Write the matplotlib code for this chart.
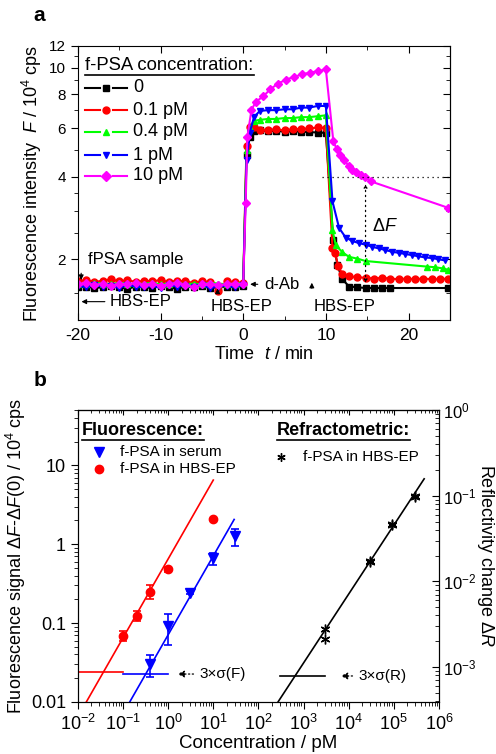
import numpy as np
import matplotlib
matplotlib.use('Agg')
import matplotlib.pyplot as plt
from matplotlib.ticker import FixedLocator, FuncFormatter, LogLocator, NullFormatter

plt.rcParams['font.family'] = ['Liberation Sans', 'DejaVu Sans']
plt.rcParams['mathtext.fontset'] = 'custom'
plt.rcParams['mathtext.rm'] = 'Liberation Sans'
plt.rcParams['mathtext.it'] = 'Liberation Sans:italic'
plt.rcParams['mathtext.bf'] = 'Liberation Sans:bold'
plt.rcParams['axes.unicode_minus'] = False

# ---------------- panel a data (time in min, F in 10^4 cps) ----------------
t_base = [-20, -19, -18, -17, -16, -15, -14, -13, -12, -11, -10,
          -9, -8, -7, -6, -5, -4, -3, -2, -1, 0]

black_base = [1.58, 1.59, 1.57, 1.58, 1.60, 1.58, 1.56, 1.59, 1.58, 1.57, 1.60,
              1.58, 1.56, 1.59, 1.58, 1.60, 1.57, 1.58, 1.59, 1.58, 1.60]
red_base = [1.66, 1.68, 1.65, 1.67, 1.69, 1.66, 1.68, 1.65, 1.67, 1.66, 1.68,
            1.65, 1.67, 1.66, 1.64, 1.66, 1.65, 1.53, 1.66, 1.65, 1.64]
green_base = [1.63, 1.62, 1.64, 1.63, 1.62, 1.64, 1.63, 1.62, 1.63, 1.64, 1.62,
              1.63, 1.64, 1.62, 1.63, 1.62, 1.64, 1.63, 1.62, 1.63, 1.64]
blue_base = [1.60, 1.58, 1.61, 1.59, 1.60, 1.57, 1.61, 1.59, 1.58, 1.60, 1.57,
             1.61, 1.59, 1.60, 1.58, 1.61, 1.57, 1.59, 1.60, 1.58, 1.61]
mag_base = [1.62, 1.64, 1.61, 1.63, 1.60, 1.63, 1.62, 1.64, 1.61, 1.63, 1.60,
            1.62, 1.64, 1.61, 1.58, 1.62, 1.63, 1.61, 1.62, 1.63, 1.62]

black_t = [0.4, 0.8, 1.3, 2, 3, 4, 5, 6, 7, 8, 9, 10,
           10.9, 11.4, 12, 12.8, 13.8, 14.8, 15.8, 16.8, 17.8, 24.8]
black_F = [4.8, 5.6, 5.85, 5.9, 5.86, 5.88, 5.84, 5.86, 5.84, 5.82, 5.8, 5.78,
           2.35, 1.9, 1.69, 1.59, 1.58, 1.57, 1.57, 1.57, 1.57, 1.57]

red_t = [0.4, 0.8, 1.3, 2, 3, 4, 5, 6, 7, 8, 9, 10,
         10.8, 11.1, 11.5, 12, 12.8, 13.8, 14.8, 15.8, 16.8, 17.8, 18.8, 19.8,
         20.8, 21.8, 22.8, 23.8, 24.8]
red_F = [5.2, 6.05, 6.1, 5.9, 5.92, 5.95, 5.9, 5.95, 5.98, 6.0, 6.05, 6.02,
         2.2, 2.1, 1.89, 1.76, 1.73, 1.72, 1.71, 1.70, 1.71, 1.70, 1.69, 1.70,
         1.69, 1.70, 1.69, 1.69, 1.70]

green_t = [0.4, 0.8, 1.3, 2, 3, 4, 5, 6, 7, 8, 9, 10,
           10.8, 11.2, 12, 12.8, 13.8, 14.8, 22.2, 23.2, 24.2, 24.8]
green_F = [5.0, 6.0, 6.4, 6.45, 6.5, 6.5, 6.55, 6.55, 6.6, 6.6, 6.65, 6.7,
           2.55, 2.25, 2.12, 2.04, 2.01, 1.97, 1.88, 1.87, 1.85, 1.83]

blue_t = [0.4, 0.8, 1.3, 2, 3, 4, 5, 6, 7, 8, 9, 10,
          10.8, 11.6, 12.4, 13.2, 14.0, 14.8, 15.6, 16.4, 17.2, 18.0, 18.8,
          19.6, 20.4, 21.2, 22.0, 22.8, 23.6, 24.4]
blue_F = [4.6, 5.8, 6.6, 6.95, 7.0, 7.0, 7.05, 7.05, 7.15, 7.15, 7.25, 7.25,
          3.25, 2.6, 2.4, 2.33, 2.29, 2.26, 2.22, 2.19, 2.16, 2.13, 2.11,
          2.09, 2.07, 2.05, 2.03, 2.02, 2.0, 1.98]

mag_t = [0.3, 0.5, 1.0, 1.5, 2.4, 3.3, 4.2, 5.2, 6.1, 7.1, 8.1, 9.1, 10.0,
         10.9, 11.3, 11.7, 12.2, 12.8, 13.2, 13.7, 14.2, 14.7, 15.4, 24.8]
mag_F = [3.2, 5.6, 7.0, 7.5, 7.85, 8.35, 8.75, 9.05, 9.25, 9.45, 9.6, 9.72, 9.85,
         5.4, 5.05, 4.8, 4.6, 4.37, 4.25, 4.15, 4.07, 4.0, 3.85, 3.08]

labels_a = ['0', '0.1 pM', '0.4 pM', '1 pM', '10 pM']

# ---------------- panel b data ----------------
conc_hbs = [0.1, 0.2, 0.4, 1.0, 10]
sig_hbs = [0.069, 0.124, 0.25, 0.48, 2.1]
err_hbs = [0.010, 0.018, 0.05, 0.04, 0.0]

conc_serum = [0.4, 1.0, 3.0, 10, 30]
sig_serum = [0.030, 0.092, 0.242, 0.66, 1.26]
err_serum = [0.009, 0.04, 0.01, 0.12, 0.3]

conc_refr = [3000, 3000, 30000, 30000, 90000, 90000, 300000, 300000]
dR_refr = [0.00275, 0.00214, 0.0174, 0.0168, 0.0467, 0.0455, 0.099, 0.097]

# calibration fits: y = a * x**b over [x0, x1]
fit_hbs = (0.65, 1.0, 0.0153, 10)
fit_serum = (0.071, 1.0, 0.141, 29)
fit_refr = (3.94e-4 / 275 ** 0.805, 0.805, 275, 4.7e5)

# 3 sigma noise levels
noise_hbs = (0.0243, 0.01, 0.1)
noise_serum = (0.0226, 0.1, 1.0)
noise_refr = (7.85e-4, 300, 3000)

fig = plt.figure(figsize=(4.96, 7.54), dpi=100)

# ============================ panel a ============================
ax = fig.add_axes([0.157, 0.5756, 0.75, 0.3634])
series = [
    (black_base, black_t, black_F, 'black', 's'),
    (red_base, red_t, red_F, 'red', 'o'),
    (green_base, green_t, green_F, '#00ff00', '^'),
    (blue_base, blue_t, blue_F, 'blue', 'v'),
    (mag_base, mag_t, mag_F, 'magenta', 'D'),
]
for base, tr, Fr, c, m in series:
    ax.plot(t_base + tr, base + Fr, color=c, marker=m, ms=5 if m != 'D' else 4.5,
            lw=1.5, mec=c)

ax.set_yscale('log')
ax.set_xlim(-20, 25)
ax.set_ylim(1.2, 12)
ax.yaxis.set_major_locator(FixedLocator([2, 4, 6, 8, 10, 12]))
ax.yaxis.set_minor_locator(FixedLocator([1.5, 2.5, 3, 3.5, 5, 7, 9, 11]))
ax.yaxis.set_major_formatter(FuncFormatter(lambda v, p: '%g' % v))
ax.yaxis.set_minor_formatter(NullFormatter())
ax.xaxis.set_major_locator(FixedLocator([-20, -10, 0, 10, 20]))
ax.xaxis.set_minor_locator(FixedLocator([-15, -5, 5, 15, 25]))
ax.tick_params(axis='x', which='both', direction='in', top=True, labelsize=12.5, pad=6)
ax.tick_params(axis='y', which='both', direction='out', right=False, labelsize=11)
ax.tick_params(which='major', length=5)
ax.tick_params(which='minor', length=3)
sec = ax.secondary_yaxis('right')
sec.set_yscale('log')
sec.yaxis.set_major_locator(FixedLocator([2, 4, 6, 8, 10, 12]))
sec.yaxis.set_minor_locator(FixedLocator([1.5, 2.5, 3, 3.5, 5, 7, 9, 11]))
sec.yaxis.set_major_formatter(NullFormatter())
sec.yaxis.set_minor_formatter(NullFormatter())
sec.tick_params(which='both', direction='in')
sec.tick_params(which='major', length=5)
sec.tick_params(which='minor', length=3)

ax.set_xlabel('Time  $t$ / min', fontsize=13, labelpad=2)
ax.set_ylabel('Fluorescence intensity  $F$ / 10$^{4}$ cps', fontsize=13, labelpad=4)

# legend drawn by hand (Origin style)
leg_y = [0.848, 0.766, 0.687, 0.602, 0.526]
for (base, tr, Fr, c, m), y, lab in zip(series, leg_y, labels_a):
    ax.plot([0.019, 0.059], [y, y], transform=ax.transAxes, color=c, lw=1.5)
    ax.plot([0.094, 0.131], [y, y], transform=ax.transAxes, color=c, lw=1.5)
    ax.plot([0.076], [y], transform=ax.transAxes, color=c, marker=m, ms=5, mec=c)
    ax.text(0.148, y, lab, transform=ax.transAxes, fontsize=13, va='center')
title_a = ax.text(0.02, 0.93, 'f-PSA concentration:', transform=ax.transAxes,
                  fontsize=13.3, va='center')

# annotations
ax.text(-18.8, 2.0, 'fPSA sample', fontsize=12, va='center')
ax.annotate('', xy=(-19.6, 1.64), xytext=(-19.6, 1.82),
            arrowprops=dict(arrowstyle='-|>', color='k', lw=0.8, mutation_scale=7))
ax.annotate('', xy=(-19.9, 1.40), xytext=(-16.4, 1.40),
            arrowprops=dict(arrowstyle='-|>', color='k', lw=0.8, mutation_scale=7))
ax.text(-16.1, 1.40, 'HBS-EP', fontsize=12, va='center')
ax.text(-0.2, 1.34, 'HBS-EP', fontsize=12, va='center', ha='center')
ax.annotate('', xy=(-3.1, 1.60), xytext=(-3.1, 1.49),
            arrowprops=dict(arrowstyle='-|>', color='k', lw=0.8, mutation_scale=7))
ax.annotate('', xy=(0.5, 1.62), xytext=(2.1, 1.62),
            arrowprops=dict(arrowstyle='-|>', color='k', lw=0.8, mutation_scale=7))
ax.text(2.5, 1.62, 'd-Ab', fontsize=12, va='center')
ax.annotate('', xy=(8.3, 1.68), xytext=(8.3, 1.53),
            arrowprops=dict(arrowstyle='-|>', color='k', lw=0.8, mutation_scale=7))
ax.text(12.3, 1.34, 'HBS-EP', fontsize=12, va='center', ha='center')
ax.plot([9.5, 25], [4, 4], color='k', lw=0.9, ls=(0, (1, 3)))
ax.annotate('', xy=(14.8, 3.85), xytext=(14.8, 1.6),
            arrowprops=dict(arrowstyle='<|-|>', color='k', lw=0.9, ls=(0, (1, 3)),
                            mutation_scale=5))
ax.text(15.6, 2.64, r'$\Delta F$', fontsize=13, va='center')

# ============================ panel b ============================
bx = fig.add_axes([0.157, 0.069, 0.728, 0.387])
bx.set_xscale('log')
bx.set_yscale('log')
bx.set_xlim(1e-2, 1e6)
bx.set_ylim(0.01, 50)

for (a, b, x0, x1), c in [(fit_hbs, 'red'), (fit_serum, 'blue')]:
    xf = np.array([x0, x1])
    bx.plot(xf, a * xf ** b, color=c, lw=1.2)
for (y, x0, x1), c in [(noise_hbs, 'red'), (noise_serum, 'blue')]:
    bx.plot([x0, x1], [y, y], color=c, lw=1.2)

bx.errorbar(conc_hbs, sig_hbs, yerr=err_hbs, fmt='o', color='red', ms=6,
            capsize=3, elinewidth=1.2, capthick=1.2)
bx.errorbar(conc_serum, sig_serum, yerr=err_serum, fmt='v', color='blue', ms=7,
            capsize=3, elinewidth=1.2, capthick=1.2)

bx.annotate('', xy=(1.4, noise_serum[0]), xytext=(4.2, noise_serum[0]),
            arrowprops=dict(arrowstyle='-|>', color='k', lw=0.9, ls=(0, (1, 2)),
                            mutation_scale=10))
bx.text(5.0, noise_serum[0], '3×σ(F)', fontsize=11, va='center')

bx.yaxis.set_major_formatter(FuncFormatter(lambda v, p: '%g' % v))
bx.xaxis.set_major_locator(LogLocator(base=10, numticks=20))
bx.xaxis.set_minor_locator(LogLocator(base=10, subs=np.arange(2, 10), numticks=20))
bx.xaxis.set_minor_formatter(NullFormatter())
bx.yaxis.set_minor_formatter(NullFormatter())
bx.tick_params(which='both', direction='out', labelsize=13)
bx.tick_params(which='major', length=5)
bx.tick_params(which='minor', length=3)
secx = bx.secondary_xaxis('top')
secx.set_xscale('log')
secx.tick_params(which='both', direction='in', labeltop=False)
secx.xaxis.set_major_formatter(NullFormatter())
secx.xaxis.set_minor_formatter(NullFormatter())

bx.set_xlabel('Concentration / pM', fontsize=13.5, labelpad=1)
bx.set_ylabel(r'Fluorescence signal $\Delta F$-$\Delta F(0)$ / 10$^{4}$ cps',
              fontsize=13, labelpad=2)

rx = bx.twinx()
rx.set_yscale('log')
rx.set_ylim(3.9e-4, 1)
a, b, x0, x1 = fit_refr
xf = np.array([x0, x1])
rx.plot(xf, a * xf ** b, color='k', lw=1.2)
y, x0, x1 = noise_refr
rx.plot([x0, x1], [y, y], color='k', lw=1.2)
rx.plot(conc_refr, dR_refr, ls='none', marker=(6, 2, 0), color='k', ms=7, mew=1.0)
rx.annotate('', xy=(5800, y), xytext=(14000, y),
            arrowprops=dict(arrowstyle='-|>', color='k', lw=0.9, ls=(0, (1, 2)),
                            mutation_scale=10))
rx.text(16500, y, '3×σ(R)', fontsize=11, va='center')
rx.yaxis.set_major_locator(LogLocator(base=10, numticks=10))
rx.yaxis.set_minor_locator(LogLocator(base=10, subs=np.arange(2, 10), numticks=10))
rx.yaxis.set_minor_formatter(NullFormatter())
rx.tick_params(which='both', direction='in', labelsize=12, pad=3)
rx.tick_params(which='major', length=5)
rx.tick_params(which='minor', length=3)
fig.text(0.979, 0.263, r'Reflectivity change $\Delta R$', fontsize=13,
         rotation=270, va='center', ha='center')

# panel b legend texts
title_f = bx.text(0.011, 0.932, 'Fluorescence:', transform=bx.transAxes,
                  fontsize=13, fontweight='bold', va='center')
bx.plot([0.058], [0.856], transform=bx.transAxes, marker='v', color='blue', ms=7)
bx.text(0.116, 0.856, 'f-PSA in serum', transform=bx.transAxes, fontsize=11, va='center')
bx.plot([0.058], [0.798], transform=bx.transAxes, marker='o', color='red', ms=6)
bx.text(0.116, 0.798, 'f-PSA in HBS-EP', transform=bx.transAxes, fontsize=11, va='center')
title_r = bx.text(0.551, 0.932, 'Refractometric:', transform=bx.transAxes,
                  fontsize=13, fontweight='bold', va='center')
bx.plot([0.562], [0.839], transform=bx.transAxes, marker=(6, 2, 0), color='k', ms=6)
bx.text(0.623, 0.839, 'f-PSA in HBS-EP', transform=bx.transAxes, fontsize=11, va='center')

fig.text(0.067, 0.98, 'a', fontsize=15, fontweight='bold', va='center')
fig.text(0.067, 0.496, 'b', fontsize=15, fontweight='bold', va='center')

# underline titles
fig.canvas.draw()
renderer = fig.canvas.get_renderer()
inv = fig.transFigure.inverted()
for txt in [title_a, title_f, title_r]:
    bb = txt.get_window_extent(renderer)
    (x0, y0), (x1, _) = inv.transform([[bb.x0, bb.y0 - 1], [bb.x1, bb.y0]])
    fig.add_artist(plt.Line2D([x0, x1], [y0, y0], transform=fig.transFigure,
                              color='k', lw=1.2))

fig.savefig('out.png', dpi=100)
